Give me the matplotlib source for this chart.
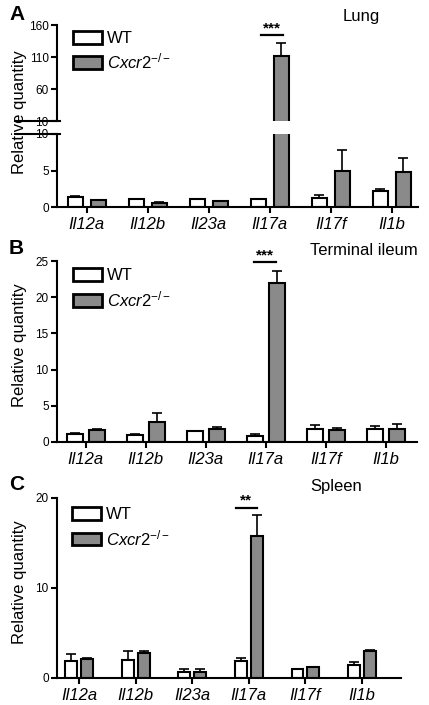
import matplotlib
matplotlib.use('Agg')
import matplotlib.pyplot as plt
import numpy as np

plt.rcParams['font.family'] = ['Liberation Sans', 'DejaVu Sans']
plt.rcParams['mathtext.fontset'] = 'custom'
plt.rcParams['mathtext.rm'] = 'Liberation Sans'
plt.rcParams['mathtext.it'] = 'Liberation Sans:italic'

genes = ['Il12a', 'Il12b', 'Il23a', 'Il17a', 'Il17f', 'Il1b']

# panel A - lung
lung_wt = [1.4, 1.1, 1.1, 1.1, 1.3, 2.2]
lung_wt_err = [0.05, 0.05, 0.05, 0.05, 0.4, 0.3]
lung_ko = [0.9, 0.6, 0.8, 112, 5.0, 4.8]
lung_ko_err = [0.05, 0.05, 0.05, 20, 2.8, 1.9]

# panel B - terminal ileum
ileum_wt = [1.1, 1.0, 1.5, 0.85, 1.75, 1.85]
ileum_wt_err = [0.15, 0.05, 0.05, 0.3, 0.65, 0.4]
ileum_ko = [1.65, 2.75, 1.85, 22.0, 1.6, 1.85]
ileum_ko_err = [0.15, 1.2, 0.25, 1.6, 0.3, 0.65]

# panel C - spleen
spleen_wt = [1.9, 2.05, 0.7, 1.9, 0.95, 1.5]
spleen_wt_err = [0.8, 0.95, 0.25, 0.35, 0.05, 0.3]
spleen_ko = [2.1, 2.75, 0.7, 15.8, 1.2, 3.0]
spleen_ko_err = [0.1, 0.3, 0.35, 2.3, 0.05, 0.1]

W, H = 429, 705
GRAY = '#8a8a8a'
LW = 1.5

fig = plt.figure(figsize=(W / 100, H / 100), dpi=100)


def px_axes(x0, y0, x1, y1):
    return fig.add_axes([x0 / W, 1 - y1 / H, (x1 - x0) / W, (y1 - y0) / H])


def style(ax):
    for s in ['top', 'right']:
        ax.spines[s].set_visible(False)
    for s in ['left', 'bottom']:
        ax.spines[s].set_linewidth(LW)
    ax.tick_params(width=LW, length=4, labelsize=8.5, pad=2)


def draw_bars(ax, wt, wt_err, ko, ko_err, off, bw, ymin=None):
    x = np.arange(len(genes))
    for xs, vals, errs, col in [(x - off, wt, wt_err, 'white'), (x + off, ko, ko_err, GRAY)]:
        vals = np.array(vals, float)
        errs = np.array(errs, float)
        keep = np.ones(len(vals), bool) if ymin is None else vals > ymin
        ax.errorbar(xs[keep], vals[keep], yerr=[np.zeros(keep.sum()), errs[keep]],
                    fmt='none', ecolor='black', elinewidth=1.2, capsize=3.5,
                    capthick=1.2, zorder=1)
        ax.bar(xs[keep], vals[keep], bw, color=col, edgecolor='black',
               linewidth=LW, zorder=2)
    ax.set_xticks(x)
    ax.set_xticklabels(genes, fontsize=12, style='italic')
    ax.tick_params(axis='x', labelsize=12, pad=3)


def add_legend(ax, y_anchor):
    from matplotlib.patches import Patch
    handles = [Patch(facecolor='white', edgecolor='black', linewidth=2),
               Patch(facecolor=GRAY, edgecolor='black', linewidth=2)]
    ax.legend(handles, ['WT', r'$\mathit{Cxcr2}^{\mathit{-/-}}$'], loc='upper left',
              bbox_to_anchor=(0.045, y_anchor), frameon=False, fontsize=12,
              handlelength=1.7, handleheight=0.8, handletextpad=0.3,
              labelspacing=0.35, borderpad=0, borderaxespad=0)


def sig(ax, x0, x1, y, stars):
    ax.plot([x0, x1], [y, y], color='black', lw=1.6, clip_on=False)
    ax.text((x0 + x1) / 2, y, stars, ha='center', va='bottom', fontsize=11,
            fontweight='bold')


# ---- panel A (broken axis)
off_a, bw_a = 0.19, 0.25
xlim_a = (-0.49, 5.43)
ax_top = px_axes(57, 25, 418, 121)
ax_bot = px_axes(57, 134, 418, 207)
style(ax_top)
style(ax_bot)
draw_bars(ax_top, lung_wt, lung_wt_err, lung_ko, lung_ko_err, off_a, bw_a, ymin=10)
draw_bars(ax_bot, lung_wt, lung_wt_err, lung_ko, lung_ko_err, off_a, bw_a)
for ax in (ax_top, ax_bot):
    ax.set_xlim(*xlim_a)
ax_top.set_ylim(10, 160)
ax_top.set_yticks([10, 60, 110, 160])
ax_top.spines['bottom'].set_visible(False)
ax_top.tick_params(axis='x', bottom=False, labelbottom=False)
ax_bot.set_ylim(0, 10)
ax_bot.set_yticks([0, 5, 10])
# break caps on the y axis
for ax, yv in [(ax_top, 10), (ax_bot, 10)]:
    ax.plot([-0.12, 0.012], [yv, yv], transform=ax.get_yaxis_transform(),
            color='black', lw=LW, clip_on=False, solid_capstyle='butt')
add_legend(ax_top, 0.94)
sig(ax_top, 3 - 0.15, 3 + 0.21, 144, '***')

# ---- panel B
ax_b = px_axes(57, 261, 417, 442)
style(ax_b)
draw_bars(ax_b, ileum_wt, ileum_wt_err, ileum_ko, ileum_ko_err, 0.18, 0.27)
ax_b.set_xlim(-0.48, 5.52)
ax_b.set_ylim(0, 25)
ax_b.set_yticks([0, 5, 10, 15, 20, 25])
add_legend(ax_b, 0.96)
sig(ax_b, 3 - 0.2, 3 + 0.17, 24.8, '***')

# ---- panel C
ax_c = px_axes(57, 498, 401, 678)
style(ax_c)
draw_bars(ax_c, spleen_wt, spleen_wt_err, spleen_ko, spleen_ko_err, 0.14, 0.21)
ax_c.set_xlim(-0.39, 5.69)
ax_c.set_ylim(0, 20)
ax_c.set_yticks([0, 10, 20])
add_legend(ax_c, 0.95)
sig(ax_c, 3 - 0.23, 3 + 0.14, 18.9, '**')

# y labels, panel letters, tissue names
for yc in [112, 345, 582]:
    fig.text(20 / W, 1 - yc / H, 'Relative quantity', rotation=90, ha='center',
             va='center', fontsize=12)
for letter, yc in [('A', 14), ('B', 249), ('C', 485)]:
    fig.text(9 / W, 1 - yc / H, letter, ha='left', va='center', fontsize=15,
             fontweight='bold')
for name, x0, yc in [('Lung', 343, 16), ('Terminal ileum', 310, 250), ('Spleen', 310, 487)]:
    fig.text(x0 / W, 1 - yc / H, name, ha='left', va='center', fontsize=12)

fig.savefig('out.png', dpi=100)
